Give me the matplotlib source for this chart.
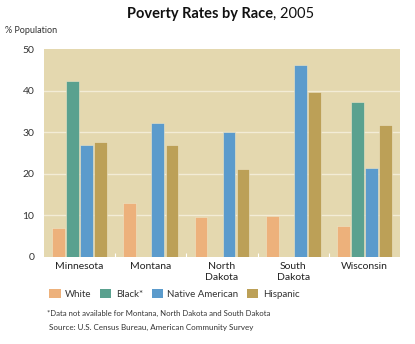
import numpy as np
import matplotlib.pyplot as plt
from matplotlib.patches import Patch

plt.rcParams['font.family'] = ['Lato', 'DejaVu Sans']

states = ['Minnesota', 'Montana', 'North\nDakota', 'South\nDakota', 'Wisconsin']
races = ['White', 'Black*', 'Native American', 'Hispanic']
white = [6.8, 12.9, 9.6, 9.9, 7.4]
black = [42.4, np.nan, np.nan, np.nan, 37.2]
native = [27.0, 32.3, 30.0, 46.1, 21.4]
hispanic = [27.6, 27.0, 21.1, 39.8, 31.7]
colors = ['#EDB17B', '#5AA18F', '#5B9BCC', '#BCA057']

fig = plt.figure(figsize=(4.15, 3.44), dpi=100)
ax = fig.add_axes([0.106, 0.254, 0.858, 0.603])
ax.set_facecolor('#E4D8AF')

x = np.arange(len(states))
step = 0.197
width = 0.178
for i, (vals, c) in enumerate(zip([white, black, native, hispanic], colors)):
    ax.bar(x + (i - 1.5) * step, vals, width, color=c, edgecolor='#EFE6C8',
           linewidth=0.4, zorder=3)

ax.set_xlim(-0.5, 4.5)
ax.set_ylim(0, 50)
ax.set_yticks([0, 10, 20, 30, 40, 50])
ax.set_xticks(x)
ax.set_xticklabels(states, fontsize=7.5, color='#222222', linespacing=1.3)
ax.tick_params(axis='y', length=0, labelsize=7.5, labelcolor='#333333', pad=7)
ax.tick_params(axis='x', length=0, pad=4)
ax.set_xticks(np.arange(0.5, 4.5, 1), minor=True)
ax.tick_params(axis='x', which='minor', direction='in', length=3, color='white', width=0.8)
for s in ax.spines.values():
    s.set_visible(False)
for yv in [10, 20, 30, 40]:
    ax.axhline(yv, color='#F3ECD6', linewidth=1.0, zorder=1)

title = fig.text(0.306, 0.947, 'Poverty Rates by Race', fontsize=10.5, fontweight='bold',
                 color='#111111', va='baseline')
fig.canvas.draw()
ax.annotate(', 2005', xy=(1, 0), xycoords=title, fontsize=10.5, color='#111111',
            va='bottom', ha='left')
fig.text(0.012, 0.905, '% Population', fontsize=6.5, color='#333333')

handles = [Patch(facecolor=c, edgecolor='none') for c in colors]
fig.legend(handles, races, loc='center left', bbox_to_anchor=(0.098, 0.146), ncol=4,
           frameon=False, fontsize=7, handlelength=1.15, handleheight=1.1,
           handletextpad=0.45, columnspacing=0.9, labelcolor='#333333')

fig.text(0.113, 0.083, '*Data not available for Montana, North Dakota and South Dakota',
         fontsize=5.6, color='#333333')
fig.text(0.118, 0.042, 'Source: U.S. Census Bureau, American Community Survey',
         fontsize=5.8, color='#333333')

fig.savefig('out.png', dpi=100, facecolor='white')
